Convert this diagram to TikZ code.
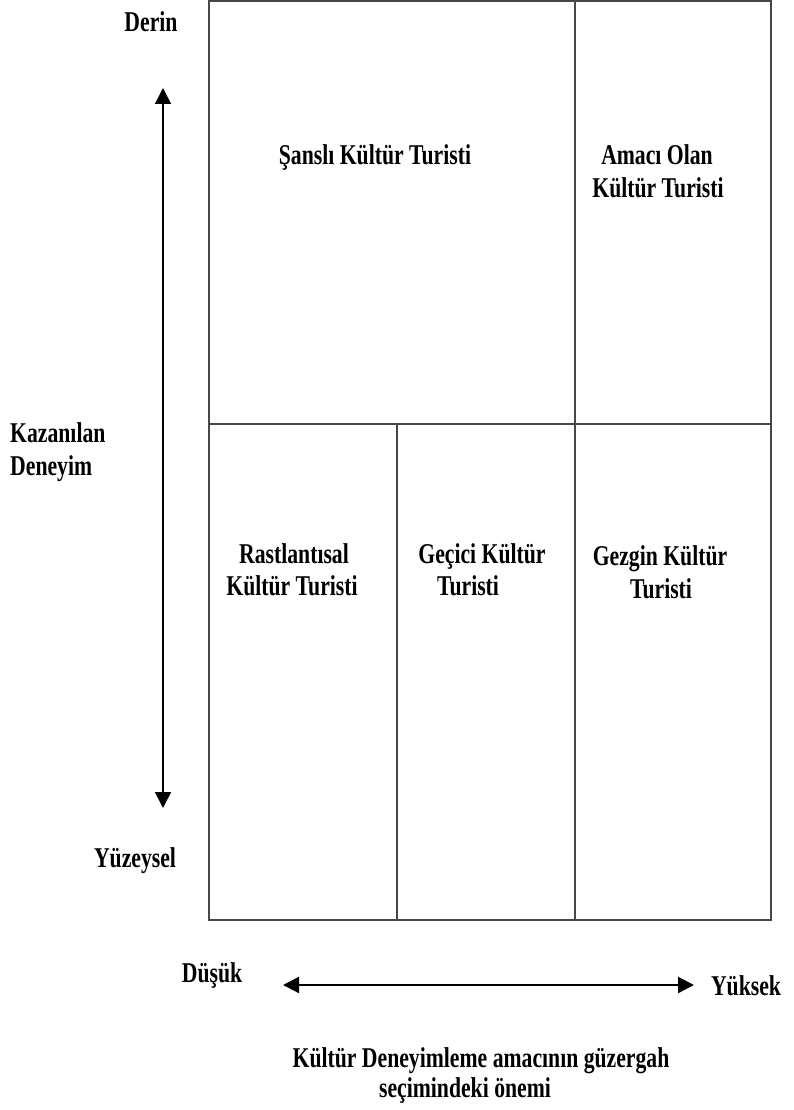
\documentclass[tikz,border=0pt]{standalone}
\usepackage{fontspec}
\setmainfont{Liberation Serif}
\usetikzlibrary{arrows.meta}
\newcommand{\tall}[1]{\scalebox{1}[1.32]{#1}}
\begin{document}
\begin{tikzpicture}[x=1pt,y=-1pt,
  lbl/.style={font=\fontsize{21.7}{30}\selectfont\bfseries, inner sep=0pt, anchor=base},
  grid/.style={draw=black!72, line width=1.5pt},
  axis/.style={{Triangle[width=16pt,length=16pt]}-{Triangle[width=16pt,length=16pt]}}]
\useasboundingbox (0,0) rectangle (794,1110);
% frame
\coordinate (tl) at (209,1);
\coordinate (br) at (771,920);
\draw[grid] (tl) rectangle (br);
\coordinate (m1) at (575,1);
\coordinate (m2) at (575,920);
\draw[grid] (m1) -- (m2);
\coordinate (h1) at (209,424);
\coordinate (h2) at (771,424);
\draw[grid] (h1) -- (h2);
\coordinate (v1) at (397,424);
\coordinate (v2) at (397,920);
\draw[grid] (v1) -- (v2);
% labels
\node[lbl] (derin) at (151,32) {\tall{Derin}};
\node[lbl] (sansli) at (375,165) {\tall{Şanslı Kültür Turisti}};
\node[lbl] (amaci1) at (657,165) {\tall{Amacı Olan}};
\node[lbl] (amaci2) at (658,197) {\tall{Kültür Turisti}};
\node[lbl, anchor=base west] (kaz1) at (10,442) {\tall{Kazanılan}};
\node[lbl, anchor=base west] (kaz2) at (10,475) {\tall{Deneyim}};
\node[lbl] (rast1) at (294,563) {\tall{Rastlantısal}};
\node[lbl] (rast2) at (292,595) {\tall{Kültür Turisti}};
\node[lbl] (gec1) at (482,563) {\tall{Geçici Kültür}};
\node[lbl] (gec2) at (468,595) {\tall{Turisti}};
\node[lbl] (gez1) at (660,565) {\tall{Gezgin Kültür}};
\node[lbl] (gez2) at (661,598) {\tall{Turisti}};
\node[lbl] (yuz) at (135,867) {\tall{Yüzeysel}};
\node[lbl] (dus) at (212,982) {\tall{Düşük}};
\node[lbl] (yuk) at (746,995) {\tall{Yüksek}};
\node[lbl] (kul1) at (481,1067) {\tall{Kültür Deneyimleme amacının güzergah}};
\node[lbl] (kul2) at (465,1097) {\tall{seçimindeki önemi}};
% arrows
\coordinate (vt) at (163,88);
\coordinate (vb) at (163,808);
\draw[axis, line width=1.5pt] (vt) -- (vb);
\coordinate (hl) at (283,985);
\coordinate (hr) at (694,985);
\draw[axis, line width=2.2pt] (hl) -- (hr);
\end{tikzpicture}
\end{document}
